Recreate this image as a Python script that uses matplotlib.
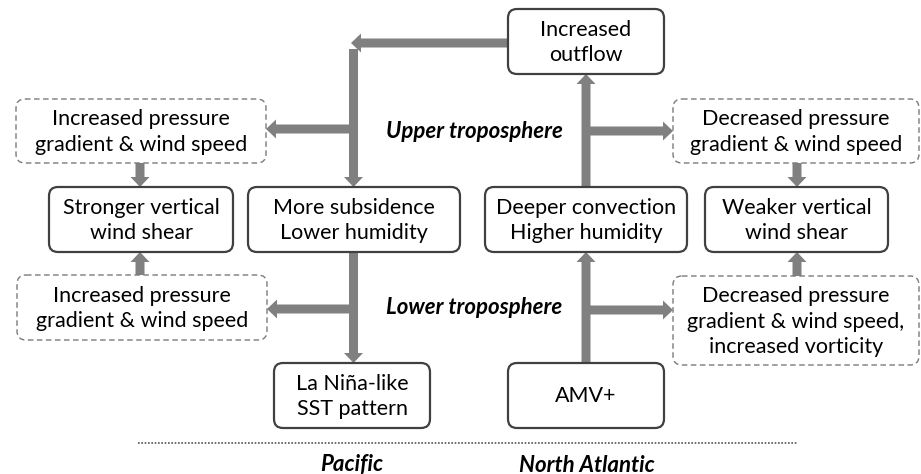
import matplotlib
matplotlib.use("Agg")
import matplotlib.pyplot as plt
from matplotlib.patches import FancyBboxPatch

FONT = ["Lato", "DejaVu Sans"]

# Box texts
solid_labels = [
    "Increased\noutflow",
    "Stronger vertical\nwind shear",
    "More subsidence\nLower humidity",
    "Deeper convection\nHigher humidity",
    "Weaker vertical\nwind shear",
    "La Niña-like\nSST pattern",
    "AMV+",
]
dashed_labels = [
    "Increased pressure\ngradient & wind speed",
    "Increased pressure\ngradient & wind speed",
    "Decreased pressure\ngradient & wind speed",
    "Decreased pressure\ngradient & wind speed,\nincreased vorticity",
]
layer_labels = ["Upper troposphere", "Lower troposphere"]
region_labels = ["Pacific", "North Atlantic"]

# Layout (pixel coordinates: x0, y0, x1, y1)
solid_boxes = [
    (508, 9, 664, 74),
    (49, 187, 233, 252),
    (248, 187, 460, 252),
    (485, 187, 687, 252),
    (705, 187, 888, 252),
    (274, 363, 430, 428),
    (508, 363, 664, 428),
]
dashed_boxes = [
    (16, 99, 266, 163),
    (17, 275, 267, 340),
    (673, 99, 919, 163),
    (673, 276, 919, 365),
]
arrows = [  # (x_start, y_start, x_end, y_end)
    (508, 43, 351, 43),
    (353.5, 49, 353.5, 187),
    (349, 129, 266, 129),
    (140, 163, 140, 187),
    (140, 275, 140, 252),
    (353.5, 252, 353.5, 363),
    (349, 309, 267, 309),
    (586, 363, 586, 252),
    (590, 310, 673, 310),
    (586, 187, 586, 74),
    (590, 131, 673, 131),
    (797, 163, 797, 187),
    (797, 276, 797, 252),
]
layer_pos = [(474, 131), (474, 307)]
region_pos = [(352, 465), (587, 465)]

W, H = 921, 474
fig = plt.figure(figsize=(W / 100, H / 100), dpi=100)
ax = fig.add_axes([0, 0, 1, 1])
ax.set_xlim(0, W)
ax.set_ylim(H, 0)
ax.axis("off")

GRAY = "#808080"
FS = 15.5
LS = 1.32

for (x0, y0, x1, y1) in arrows:
    ax.arrow(x0, y0, x1 - x0, y1 - y0, width=9, head_width=19, head_length=10,
             length_includes_head=True, color=GRAY, lw=0, zorder=1)

for lab, (x0, y0, x1, y1) in zip(solid_labels, solid_boxes):
    p = FancyBboxPatch((x0, y0), x1 - x0, y1 - y0,
                       boxstyle="round,pad=0,rounding_size=9",
                       fc="white", ec="#404040", lw=1.6, zorder=2)
    ax.add_patch(p)
    ax.text((x0 + x1) / 2, (y0 + y1) / 2 + 1, lab, ha="center", va="center",
            fontsize=FS, family=FONT, color="black", linespacing=LS, zorder=3)

for lab, (x0, y0, x1, y1) in zip(dashed_labels, dashed_boxes):
    p = FancyBboxPatch((x0, y0), x1 - x0, y1 - y0,
                       boxstyle="round,pad=0,rounding_size=9",
                       fc="white", ec="#7a7a7a", lw=1.0, ls=(0, (4, 2.5)), zorder=2)
    ax.add_patch(p)
    ax.text((x0 + x1) / 2, (y0 + y1) / 2 + 1, lab, ha="center", va="center",
            fontsize=FS, family=FONT, color="black", linespacing=LS, zorder=3)

for lab, (x, y) in zip(layer_labels, layer_pos):
    ax.text(x, y, lab, ha="center", va="center", fontsize=16,
            family=FONT, weight="bold", style="italic", color="black")

for lab, (x, y) in zip(region_labels, region_pos):
    ax.text(x, y, lab, ha="center", va="center", fontsize=16,
            family=FONT, weight="bold", style="italic", color="black")

ax.plot([138, 797], [443, 443], color="#555555", lw=1.2, ls=(0, (1, 1)))

fig.savefig("out.png", dpi=100)
